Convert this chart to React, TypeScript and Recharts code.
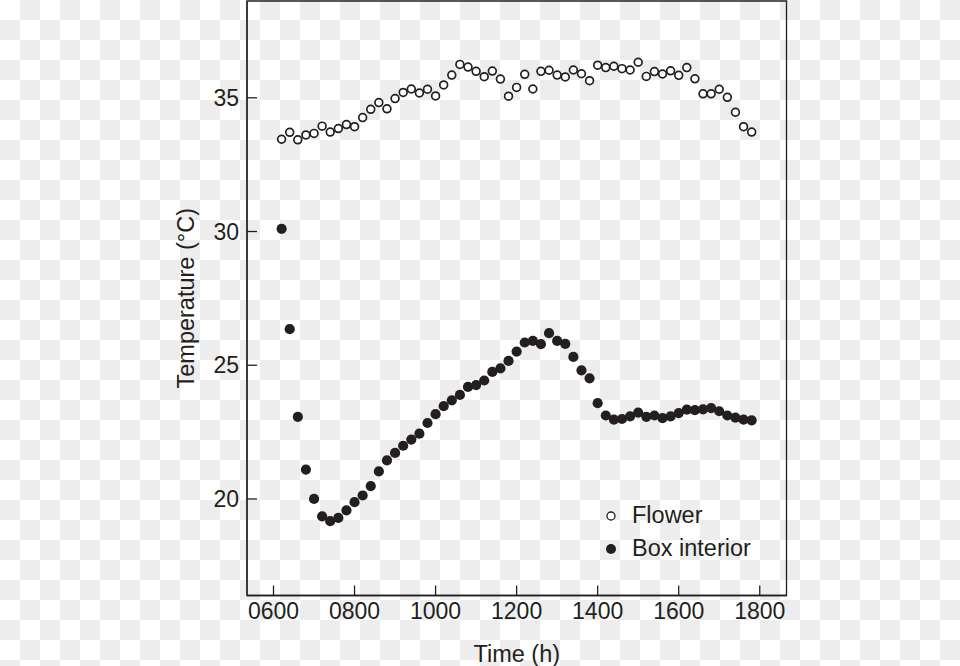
import React from "react";
import {
  Legend,
  ReferenceArea,
  Scatter,
  ScatterChart,
  XAxis,
  YAxis,
} from "recharts";

// sampling times (hhmm), every 12 minutes
const times = [
  "0612", "0624", "0636", "0648",
  "0700", "0712", "0724", "0736", "0748",
  "0800", "0812", "0824", "0836", "0848",
  "0900", "0912", "0924", "0936", "0948",
  "1000", "1012", "1024", "1036", "1048",
  "1100", "1112", "1124", "1136", "1148",
  "1200", "1212", "1224", "1236", "1248",
  "1300", "1312", "1324", "1336", "1348",
  "1400", "1412", "1424", "1436", "1448",
  "1500", "1512", "1524", "1536", "1548",
  "1600", "1612", "1624", "1636", "1648",
  "1700", "1712", "1724", "1736", "1748",
];

const flowerTemps = [
  33.45, 33.71, 33.43, 33.61, 33.67, 33.94, 33.72, 33.85, 34.0, 33.92,
  34.26, 34.57, 34.82, 34.59, 34.97, 35.2, 35.33, 35.18, 35.32, 35.07,
  35.48, 35.85, 36.25, 36.15, 35.99, 35.79, 36.0, 35.7, 35.06, 35.39,
  35.88, 35.33, 35.99, 36.03, 35.85, 35.78, 36.04, 35.9, 35.64, 36.22,
  36.13, 36.18, 36.09, 36.04, 36.33, 35.8, 35.98, 35.89, 36.01, 35.84,
  36.13, 35.71, 35.15, 35.15, 35.32, 35.02, 34.46, 33.92, 33.72,
];

const boxTemps = [
  30.1, 26.35, 23.07, 21.1, 20.0, 19.35, 19.17, 19.29, 19.57, 19.88,
  20.13, 20.48, 21.03, 21.44, 21.72, 21.99, 22.22, 22.44, 22.84, 23.17,
  23.47, 23.69, 23.89, 24.19, 24.26, 24.43, 24.75, 24.88, 25.16, 25.51,
  25.85, 25.91, 25.79, 26.2, 25.91, 25.8, 25.31, 24.81, 24.51, 23.58,
  23.12, 22.97, 22.99, 23.09, 23.23, 23.07, 23.12, 23.02, 23.09, 23.21,
  23.34, 23.32, 23.35, 23.4, 23.28, 23.12, 23.04, 22.97, 22.94,
];

const xTicks = [6, 8, 10, 12, 14, 16, 18];
const yTicks = [20, 25, 30, 35];

const X_DOMAIN: [number, number] = [5.346, 18.66];
const Y_DOMAIN: [number, number] = [16.39, 38.62];

const INK = "#231f20";
const FONT = '"Liberation Sans", Arial, Helvetica, sans-serif';

function toHours(hhmm: string) {
  return Number(hhmm.slice(0, 2)) + Number(hhmm.slice(2)) / 60;
}

function hhmm(h: number) {
  return String(Math.round(h * 100)).padStart(4, "0");
}

const flowerData = times.map((t, i) => ({ t: toHours(t), v: flowerTemps[i] }));
const boxData = times.map((t, i) => ({ t: toHours(t), v: boxTemps[i] }));

const tickText = { fill: INK, fontSize: 23, fontFamily: FONT };
const tickStroke = { stroke: INK, strokeWidth: 1.3 };

function YTitle(props: any) {
  const vb = props.viewBox || { y: 0, height: 0 };
  const cy = vb.y + vb.height / 2;
  const cx = 186;
  return (
    <text
      x={cx}
      y={cy}
      dy="0.36em"
      textAnchor="middle"
      transform={`rotate(-90, ${cx}, ${cy})`}
      fill={INK}
      fontSize={23.5}
      fontFamily={FONT}
    >
      Temperature (°C)
    </text>
  );
}

function XTitle(props: any) {
  const vb = props.viewBox || { x: 0, y: 0, width: 0 };
  return (
    <text
      x={vb.x + vb.width / 2}
      y={vb.y + 66}
      textAnchor="middle"
      fill={INK}
      fontSize={23.5}
      fontFamily={FONT}
    >
      Time (h)
    </text>
  );
}

function OpenDot(props: any) {
  return (
    <circle cx={props.cx} cy={props.cy} r={3.9} fill="#fff" stroke={INK} strokeWidth={1.7} />
  );
}

function FilledDot(props: any) {
  return <circle cx={props.cx} cy={props.cy} r={5.1} fill={INK} />;
}

function KeyBox() {
  const rows = [
    { label: "Flower", open: true },
    { label: "Box interior", open: false },
  ];
  return (
    <div style={{ fontFamily: FONT, fontSize: 23.5, color: INK, lineHeight: 1 }}>
      {rows.map((r) => (
        <div key={r.label} style={{ display: "flex", alignItems: "center", height: 33 }}>
          <svg width={22} height={14} style={{ marginRight: 10 }}>
            {r.open ? (
              <circle cx={11} cy={7} r={4} fill="#fff" stroke={INK} strokeWidth={1.3} />
            ) : (
              <circle cx={11} cy={7} r={5} fill={INK} />
            )}
          </svg>
          <span>{r.label}</span>
        </div>
      ))}
    </div>
  );
}

export default function App() {
  return (
    <div
      style={{
        position: "absolute",
        left: 0,
        top: 0,
        width: 960,
        height: 666,
        backgroundColor: "#fff",
        backgroundImage: "repeating-conic-gradient(#ededed 0% 25%, #ffffff 0% 50%)",
        backgroundSize: "40px 40px",
      }}
    >
      <ScatterChart
        width={960}
        height={666}
        margin={{ top: 1, right: 173.5, bottom: 30.5, left: 187 }}
      >
        <XAxis
          type="number"
          dataKey="t"
          domain={X_DOMAIN}
          ticks={xTicks}
          allowDataOverflow
          height={40}
          tickSize={-10}
          tickMargin={17}
          tickLine={tickStroke}
          tick={tickText}
          tickFormatter={hhmm}
          axisLine={tickStroke}
          label={<XTitle />}
        />
        <YAxis
          type="number"
          dataKey="v"
          domain={Y_DOMAIN}
          ticks={yTicks}
          allowDataOverflow
          width={60}
          tickSize={-10}
          tickMargin={18}
          tickLine={tickStroke}
          tick={tickText}
          axisLine={tickStroke}
          label={<YTitle />}
        />
        <ReferenceArea
          x1={X_DOMAIN[0]}
          x2={X_DOMAIN[1]}
          y1={Y_DOMAIN[0]}
          y2={Y_DOMAIN[1]}
          fill="none"
          stroke={INK}
          strokeWidth={1.3}
          ifOverflow="visible"
        />
        <Legend
          layout="vertical"
          align="center"
          verticalAlign="middle"
          content={<KeyBox />}
          wrapperStyle={{ left: 600, top: 499.5, width: 220 }}
        />
        <Scatter
          name="Flower"
          data={flowerData}
          shape={<OpenDot />}
          isAnimationActive={false}
        />
        <Scatter
          name="Box interior"
          data={boxData}
          shape={<FilledDot />}
          isAnimationActive={false}
        />
      </ScatterChart>
    </div>
  );
}
